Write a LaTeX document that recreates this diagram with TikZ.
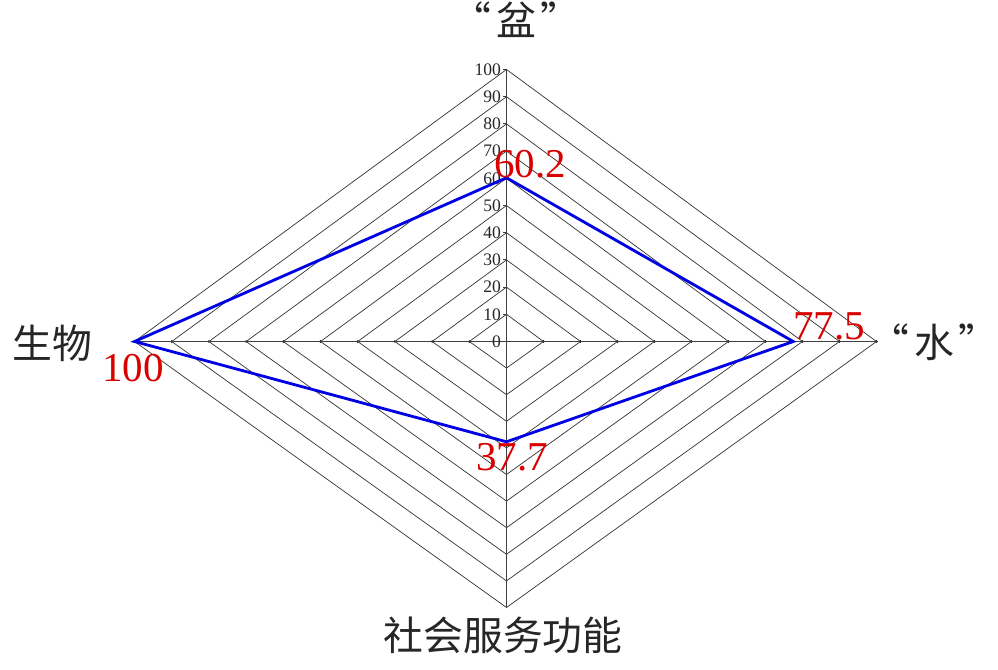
\documentclass[tikz,border=0pt]{standalone}
\usepackage{fontspec}
\setmainfont{Liberation Serif}
\newfontfamily\cjk{Noto Sans CJK SC}
\usetikzlibrary{calc}
\tikzset{
    ring/.style={draw=black!80, line width=0.6pt},
    axisline/.style={draw=black!75, line width=0.7pt},
    value/.style={text=red!85!black, font=\fontsize{35}{35}\selectfont, inner sep=0pt},
    axisname/.style={font=\cjk\fontsize{34}{34}\selectfont, text=black!85, inner sep=0pt},
    scalelabel/.style={font=\fontsize{15}{15}\selectfont, text=black!85, inner sep=1pt}
}
\begin{document}
\begin{tikzpicture}[x=0.03cm, y=-0.03cm]
\useasboundingbox (0,0) rectangle (998,670);
\coordinate (O) at (506.5,341.5);
% rings
\foreach \r in {1,...,10}
{
    \draw[ring]($(O)+(0,-27.2*\r)$)--($(O)+(37*\r,0)$)--($(O)+(0,26.6*\r)$)--($(O)+(-37.2*\r,0)$)--cycle;
    \fill[black]($(O)+(37*\r,0)$)circle(1.3);
    \fill[black]($(O)+(-37.2*\r,0)$)circle(1.3);
}
% axes
\coordinate (top) at ($(O)+(0,-272)$);
\coordinate (right) at ($(O)+(370,0)$);
\coordinate (bottom) at ($(O)+(0,266)$);
\coordinate (left) at ($(O)+(-372,0)$);
\draw[axisline](left)--(right);
\draw[axisline](top)--(bottom);
\foreach \v in {0,10,...,100}
{
    \draw[axisline]($(O)+(0,-2.72*\v)$)--++(-4,0)node[left,scalelabel]{\v};
}
% data
\coordinate (p1) at ($(O)+(0,-0.602*272)$);
\coordinate (p2) at ($(O)+(0.775*370,0)$);
\coordinate (p3) at ($(O)+(0,0.377*266)$);
\coordinate (p4) at (left);
\draw[blue!90!black, line width=2.4pt, line join=miter](p1)--(p2)--(p3)--(p4)--cycle;
\node[value] (v1) at (530,164){60.2};
\node[value] (v2) at (829,326){77.5};
\node[value] (v3) at (512,457){37.7};
\node[value] (v4) at (133,368){100};
% names
\node[axisname] (n1) at (516,20){“\hspace{0.12em}盆\hspace{0.12em}”};
\node[axisname] (n2) at (934,342){“\hspace{0.12em}水\hspace{0.12em}”};
\node[axisname] (n3) at (52,343){生物};
\node[axisname] (n4) at (503,635){社会服务功能};
\end{tikzpicture}
\end{document}
